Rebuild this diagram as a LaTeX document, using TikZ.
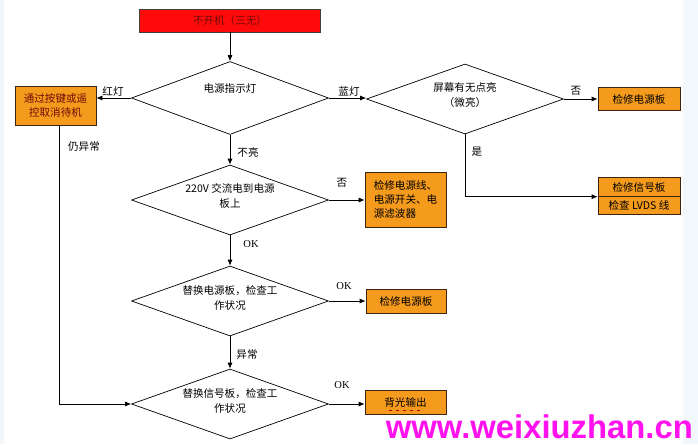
\documentclass[tikz,border=0pt]{standalone}
\usepackage{fontspec}
\setmainfont{Liberation Serif}
\newfontfamily\cjk{Noto Sans CJK SC}
\newfontfamily\wmfont{Liberation Sans}
\usetikzlibrary{arrows.meta,positioning,shapes.geometric}
\definecolor{alarm}{HTML}{FF0A0A}
\definecolor{darkred}{HTML}{6E0C08}
\definecolor{amber}{HTML}{F49A1C}
\definecolor{rim}{HTML}{3C2410}
\definecolor{haze}{HTML}{F2F7FC}
\definecolor{mag}{HTML}{FF12EE}
\tikzset{dec/.style={diamond,draw=black,line width=0.6pt,minimum width=5.91cm,minimum height=2.1cm,inner sep=0pt},txt/.style={font=\cjk\fontsize{9}{13}\selectfont,align=center,inner sep=0pt},act/.style={draw=rim,line width=0.6pt,fill=amber,font=\cjk\fontsize{9}{12}\selectfont,align=center,minimum width=2.43cm,minimum height=0.7cm,inner sep=1pt},lbl/.style={font=\cjk\fontsize{9}{11}\selectfont,inner sep=0pt},oklbl/.style={font=\fontsize{9}{11}\selectfont,inner sep=0pt},arr/.style={-{Latex[length=1.8mm,width=1.5mm]},line width=0.6pt},wire/.style={line width=0.6pt}}
\begin{document}
\begin{tikzpicture}[x=0.03cm,y=-0.03cm]
\useasboundingbox (0,0) rectangle (698,444);
\fill[haze] (683,0) rectangle (698,444);
\fill[haze] (0,0) rectangle (4,444);
\node[draw=black!75,line width=0.6pt,fill=alarm,minimum width=5.43cm,minimum height=0.69cm,font=\cjk\fontsize{9}{11}\selectfont,text=darkred] (start) at (230,20.5) {不开机（三无）};
\node[dec,minimum height=2.19cm] (d1) at (230,98) {};
\node[txt] (t1) at ([yshift=0.3cm]d1.center) {电源指示灯};
\node[dec] (d2) at (465,99) {};
\node[txt] (t2) at ([yshift=0.12cm]d2.center) {屏幕有无点亮\\（微亮）};
\node[dec] (d3) at (230,200) {};
\node[txt] (t3) at ([yshift=0.13cm]d3.center) {220V 交流电到电源\\板上};
\node[dec] (d4) at (230,301) {};
\node[txt] (t4) at ([yshift=0.1cm]d4.center) {替换电源板，检查工\\作状况};
\node[dec] (d5) at (230,404) {};
\node[txt] (t5) at ([yshift=0.1cm]d5.center) {替换信号板，检查工\\作状况};
\node[act,minimum height=1.17cm,text=darkred] (stby) at (55.5,105.5) {通过按键或遥\\控取消待机};
\node[act,minimum width=2.46cm] (pwr1) at (639,99) {检修电源板};
\node[act,minimum width=2.46cm,minimum height=0.56cm] (sig1) at (639,187) {检修信号板};
\node[act,minimum width=2.46cm,minimum height=0.56cm] (sig2) at (639,205.5) {检查 LVDS 线};
\node[act,minimum height=1.65cm,align=left] (mains) at (405.5,199.5) {检修电源线、\\电源开关、电\\源滤波器};
\node[act,minimum width=2.4cm] (pwr2) at (406,301.5) {检修电源板};
\node[act] (bl) at (405.5,402.5) {背光输出};
\draw[red!75!black,dashed,line width=0.4pt] ([xshift=-0.5cm,yshift=-0.22cm]bl.center) -- ([xshift=0.45cm,yshift=-0.22cm]bl.center);
\draw[arr] (start) -- (d1);
\draw[arr] (d1.west) -- (d1.west -| stby.east);
\draw[arr] (d1.east) -- (d1.east -| d2.west);
\draw[arr] (d2.east) -- (d2.east -| pwr1.west);
\draw[arr] (d2.south) |- (sig1.south west);
\draw[arr] (d1.south) -- (d3.north);
\draw[arr] (d3.east) -- (d3.east -| mains.west);
\draw[arr] (d3.south) -- (d4.north);
\draw[arr] (d4.east) -- (d4.east -| pwr2.west);
\draw[arr] (d4.south) -- (d5.north);
\draw[arr] (d5.east) -- (d5.east -| bl.west);
\draw[arr] ([xshift=0.11cm]stby.south) |- (d5.west);
\node[lbl] (l1) at (113,91) {红灯};
\node[lbl] (l2) at (349,91) {蓝灯};
\node[lbl] (l3) at (576,91) {否};
\node[lbl] (l4) at (477,152) {是};
\node[lbl] (l5) at (248,152) {不亮};
\node[lbl] (l6) at (342,183) {否};
\node[oklbl] (l7) at (251,244) {OK};
\node[oklbl] (l8) at (344,286) {OK};
\node[lbl] (l9) at (247,354) {异常};
\node[oklbl] (l10) at (342,385) {OK};
\node[lbl] (l11) at (84,147) {仍异常};
\node[font=\wmfont\bfseries\fontsize{28}{28}\selectfont,text=mag,anchor=base east,inner sep=0pt] (wm) at (693,438) {www.weixiuzhan.cn};
\end{tikzpicture}
\end{document}
